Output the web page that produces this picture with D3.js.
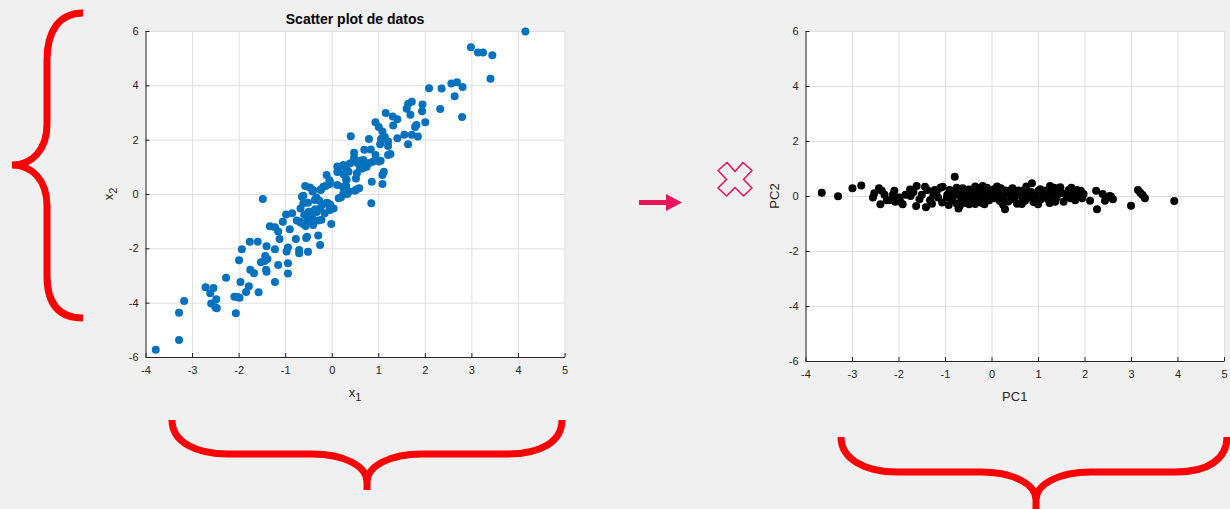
<!DOCTYPE html>
<html>
<head>
<meta charset="utf-8">
<script src="https://cdn.jsdelivr.net/npm/d3@7"></script>
<style>
  body { margin: 0; background: #f0f0f0; }
  svg { display: block; font-family: Arial, "Liberation Sans", Helvetica, sans-serif; }
</style>
</head>
<body>
<svg id="chart" width="1230" height="509"></svg>
<script>
/** Values. */
const xTicks = [-4, -3, -2, -1, 0, 1, 2, 3, 4, 5];
const yTicks = [-6, -4, -2, 0, 2, 4, 6];
const X_DOMAIN = [-4, 5];
const Y_DOMAIN = [-6, 6];

// original data [x1, x2]
const datos = [
  [-3.78,-5.73],[-3.28,-5.37],[-3.28,-4.37],[-3.17,-3.94],
  [-2.71,-3.43],[-2.54,-3.46],[-2.61,-3.65],[-2.48,-3.87],[-2.59,-4.03],[-2.47,-4.21],[-2.50,-4.17],
  [-2.27,-3.08],[-2.06,-4.39],[-2.09,-3.78],[-1.98,-3.82],[-2.02,-3.79],[-1.96,-3.24],[-1.84,-3.61],
  [-1.78,-3.40],[-1.57,-3.62],[-1.22,-3.24],
  [-1.75,-2.79],[-1.67,-2.92],[-1.52,-2.51],[-1.41,-2.79],[-1.43,-2.28],[-1.38,-2.39],[-1.44,-2.47],[-1.40,-2.86],
  [-1.99,-2.44],[-1.93,-2.03],[-1.76,-1.76],[-1.59,-1.76],[-1.40,-1.92],[-1.22,-2.03],[-1.15,-2.61],
  [-0.94,-2.55],[-0.94,-2.93],[-0.97,-2.12],[-0.94,-1.97],[-0.70,-2.06],[-0.70,-2.18],[-0.51,-2.13],
  [-1.12,-1.66],[-1.33,-1.19],[-1.22,-1.22],[-1.15,-1.38],[-0.90,-1.30],[-0.77,-1.66],[-0.53,-1.57],
  [-0.29,-1.53],[-0.25,-1.88],[-0.55,-1.62],
  [-1.48,-0.18],[-1.05,-1.02],[-0.98,-0.75],[-0.85,-0.71],[-0.75,-0.98],[-0.60,-1.11],[-0.61,-0.06],
  [-0.57,0.29],[-0.51,-0.32],[-0.47,0.24],[-0.40,0.15],[-0.42,-0.87],[-0.32,-0.66],[-0.22,-0.95],
  [-0.01,-1.10],[-0.03,-0.40],[-0.04,-0.59],[-0.33,-0.13],[-0.27,-0.24],[-0.23,0.17],[-0.13,0.29],[-0.04,0.37],
  [-0.61,-0.34],[-0.49,-0.65],[-0.43,-0.77],[-0.36,-0.59],[-0.25,-0.53],[-0.20,-0.40],[-0.15,-0.71],
  [-0.08,-0.34],[0.00,-0.53],[-0.68,-1.02],[-0.56,-1.18],[-0.51,-0.96],[-0.40,-1.14],[-0.29,-0.98],
  [-0.67,-1.05],[-0.59,-0.77],[-0.46,-0.65],[-0.35,-0.56],[-0.67,-0.53],
  [0.04,-0.53],[0.15,-0.16],[0.20,-0.12],[0.33,0.00],[0.24,0.27],[0.37,0.09],[0.53,0.17],[0.59,0.21],
  [0.85,-0.34],[0.86,0.45],[1.09,0.37],
  [4.16,5.98],[2.99,5.40],[3.14,5.21],[3.25,5.21],[3.45,5.11],[3.41,4.24],[2.09,3.89],[2.36,3.88],
  [2.57,4.07],[2.69,4.11],[2.81,3.94],[2.64,3.60],[2.80,2.83],[2.33,3.13],[1.95,3.29],[1.94,3.05],
  [2.01,2.64],[1.72,3.40],[1.64,3.31],[1.61,3.14],[1.69,2.92],[1.82,2.54],[1.79,2.47],[1.85,2.12],
  [1.72,2.18],[1.56,2.18],[1.64,1.83],[1.41,2.05],[1.16,2.98],[1.31,2.85],[1.41,2.75],[1.32,2.52],
  [0.94,2.64],[1.01,2.47],[1.09,2.30],[1.14,2.10],[1.21,1.93],[1.06,2.02],[0.41,2.13],[0.80,2.02],
  [1.04,1.83],[0.84,1.64],[0.70,1.63],[0.94,1.44],[1.21,1.44],[1.26,1.47],[1.02,1.20],[1.12,0.82],
  [1.09,0.70],[1.05,1.22],[0.88,1.19],[1.21,1.77],
  [0.48,1.33],[0.57,1.12],[0.68,1.25],[0.75,1.00],[0.61,0.94],[0.39,1.12],[0.32,0.88],[0.16,0.98],
  [0.12,0.81],[0.25,0.73],[0.32,0.53],[0.31,0.29],[0.25,0.02],[0.50,0.12],
  [-0.11,0.70],[-0.05,0.51],[-0.18,0.27],[-0.24,0.15],[-0.41,0.09],[-0.36,-0.22],[-0.11,-0.32],
  [-0.04,-0.47],[-0.64,-0.10],[-0.52,-0.71],
  [0.12,1.01],[0.25,1.07],[0.36,0.82],[0.46,1.19],[0.62,1.22],[0.70,1.10],[0.66,0.94],[0.73,1.01],
  [0.80,1.13],[0.54,0.76],[0.52,0.57],[0.29,0.27],[0.31,0.52],[0.12,0.33],[-0.04,0.45],[0.48,1.52]
];

// principal components [PC1, PC2]
const componentes = [
  [-3.65,0.12],[-3.30,-0.01],[-2.99,0.28],[-2.80,0.38],[-2.55,-0.05],[-2.52,0.10],[-2.42,0.28],[-2.36,0.19],
  [-2.39,-0.30],[-2.25,-0.15],[-2.18,-0.15],[-2.09,0.19],[-2.04,-0.05],[-2.07,-0.21],[-1.98,-0.05],
  [-1.91,-0.30],[-1.96,-0.21],[-1.75,0.24],[-1.74,0.00],[-1.61,0.36],[-1.62,-0.36],[-1.55,-0.12],
  [-1.43,0.34],[-1.38,0.22],[-1.41,-0.41],[-1.32,-0.15],[-1.25,0.04],[-1.18,0.16],[-1.05,0.34],
  [-1.06,-0.24],[-0.96,-0.05],[-0.92,-0.33],[-0.82,0.10],[-0.79,0.70],[-0.75,-0.27],[-0.71,-0.45],
  [-0.67,0.19],[-0.57,-0.02],[-0.49,0.24],[-0.44,-0.12],[-0.35,-0.29],[-0.32,0.10],[-0.24,0.28],
  [-0.19,0.36],[-0.16,-0.05],[-0.06,0.16],[0.04,-0.02],[0.15,0.24],[0.20,0.28],[0.29,-0.48],[0.33,0.10],
  [0.39,0.19],[0.47,-0.12],[0.54,0.12],[0.65,-0.29],[0.72,-0.17],[0.76,0.10],[0.87,0.46],[0.92,-0.12],
  [1.01,0.19],[1.06,-0.12],[1.15,0.10],[1.26,0.36],[1.32,0.16],[1.37,-0.21],[1.48,0.32],[1.51,0.10],
  [1.55,-0.21],[1.62,-0.02],[1.76,0.10],[1.80,-0.15],[1.84,0.22],[1.92,0.19],[1.98,0.07],[2.12,-0.17],
  [2.25,0.19],[2.27,-0.48],[2.39,0.07],[2.44,-0.17],[2.54,0.00],[2.61,-0.12],[2.57,-0.02],[3.00,-0.35],
  [3.15,0.22],[3.20,0.12],[3.25,0.04],[3.30,-0.08],[3.93,-0.18],
  [-0.95,0.05],[-0.90,0.22],[-0.85,-0.15],[-0.80,0.02],[-0.72,0.12],[-0.65,-0.10],[-0.62,0.28],
  [-0.58,0.08],[-0.55,-0.25],[-0.50,0.15],[-0.45,0.02],[-0.40,0.25],[-0.38,-0.18],[-0.30,0.05],
  [-0.27,-0.08],[-0.22,0.18],[-0.20,-0.25],[-0.12,0.08],[-0.10,0.30],[-0.05,-0.15],[0.00,0.12],
  [0.05,0.25],[0.08,-0.08],[0.12,0.05],[0.18,-0.18],[0.22,0.10],[0.26,-0.05],[0.30,0.20],[0.36,-0.20],
  [0.42,0.05],[0.45,0.28],[0.50,-0.05],[0.58,0.20],[0.62,0.02],[0.68,-0.12],[0.70,0.22],[0.80,-0.05],
  [0.85,0.15],[0.90,-0.22],[0.95,0.05],[1.05,0.25],[1.10,-0.05],[1.18,0.20],[1.22,-0.12],[1.30,0.05],
  [1.40,-0.05],[1.45,0.20],[1.58,0.08],[1.66,0.22],[1.70,-0.08],[1.88,0.00],[1.95,-0.08],
  [-1.15,-0.05],[-1.22,0.22],[-1.28,-0.28],[-1.50,0.05],[-1.68,0.15],[-1.85,0.05],[-2.12,0.05],
  [-2.30,0.05],[-0.75,0.30],[-0.68,-0.35],[-0.48,-0.30],[-0.15,-0.30],[0.12,0.35],[0.55,-0.28],
  [1.00,-0.30],[1.35,0.30],[1.72,0.30],[-1.10,0.30],[-0.35,0.35],[0.25,-0.32],[0.75,0.35],[1.25,-0.25]
];

/** Layout. */
const BG = "#f0f0f0";
const AXIS_COLOR = "#262626";
const GRID_COLOR = "#dfdfdf";
const ACCENT = "#e8155a";
const BRACE = "#ff0000";

const PANELS = [
  {left: 145.5, right: 564.5, top: 31, bottom: 357, data: datos, color: "#0072bd",
   title: "Scatter plot de datos", xlab: ["x", "1"], ylab: ["x", "2"], ylabX: 113},
  {left: 805.5, right: 1224, top: 31, bottom: 361, data: componentes, color: "#000000",
   title: null, xlab: ["PC1"], ylab: ["PC2"], ylabX: 779}
];

const svg = d3.select("#chart");
svg.append("rect").attr("width", 1230).attr("height", 509).attr("fill", BG);

function drawPanel(p) {
  const w = p.right - p.left;
  const h = p.bottom - p.top;
  const x = d3.scaleLinear().domain(X_DOMAIN).range([0, w]);
  const y = d3.scaleLinear().domain(Y_DOMAIN).range([h, 0]);

  const g = svg.append("g").attr("transform", `translate(${p.left},${p.top})`);
  g.append("rect").attr("width", w).attr("height", h).attr("fill", "#ffffff");

  // grid
  g.append("g")
    .attr("transform", `translate(0,${h})`)
    .call(d3.axisBottom(x).tickValues(xTicks).tickSize(-h).tickFormat(""))
    .call(s => s.select(".domain").remove())
    .selectAll("line").attr("stroke", GRID_COLOR);
  g.append("g")
    .call(d3.axisLeft(y).tickValues(yTicks).tickSize(-w).tickFormat(""))
    .call(s => s.select(".domain").remove())
    .selectAll("line").attr("stroke", GRID_COLOR);

  // points
  g.append("g").selectAll("circle")
    .data(p.data)
    .join("circle")
    .attr("cx", d => x(d[0]))
    .attr("cy", d => y(d[1]))
    .attr("r", 4)
    .attr("fill", p.color);

  // axes, ticks pointing inward
  const xAxis = g.append("g")
    .attr("transform", `translate(0,${h})`)
    .call(d3.axisBottom(x).tickValues(xTicks).tickSizeInner(-4).tickSizeOuter(0)
      .tickPadding(9).tickFormat(d => String(d)));
  const yAxis = g.append("g")
    .call(d3.axisLeft(y).tickValues(yTicks).tickSizeInner(-4).tickSizeOuter(0)
      .tickPadding(7).tickFormat(d => String(d)));
  [xAxis, yAxis].forEach(a => {
    a.selectAll(".domain, line").attr("stroke", AXIS_COLOR);
    a.selectAll("text").attr("fill", AXIS_COLOR).attr("font-size", 11)
      .attr("font-family", "Arial, 'Liberation Sans', sans-serif");
  });

  if (p.title) {
    g.append("text")
      .attr("x", w / 2).attr("y", -7)
      .attr("text-anchor", "middle")
      .attr("font-weight", "bold").attr("font-size", 14)
      .attr("fill", "#000")
      .text(p.title);
  }

  const xl = g.append("text")
    .attr("x", w / 2).attr("y", h + 40)
    .attr("text-anchor", "middle")
    .attr("font-size", 13).attr("fill", AXIS_COLOR)
    .text(p.xlab[0]);
  if (p.xlab[1]) xl.append("tspan").attr("dy", 4).attr("font-size", 11).text(p.xlab[1]);

  const yl = svg.append("text")
    .attr("transform", `translate(${p.ylabX},${p.top + h / 2}) rotate(-90)`)
    .attr("text-anchor", "middle")
    .attr("font-size", 13).attr("fill", AXIS_COLOR)
    .text(p.ylab[0]);
  if (p.ylab[1]) yl.append("tspan").attr("dy", 4).attr("font-size", 11).text(p.ylab[1]);
}

PANELS.forEach(drawPanel);

/** Decorations: braces, arrow and cross. */
const braces = [
  "M83,13 C60,13 47,30 47,60 L47,124 C47,150 32,165 12,165 C32,165 47,180 47,206 L47,276 C47,305 60,318 83,318",
  "M172,420 C172,442 196,454 228,454 L312,454 C344,454 367,466 367,482 L367,490 M367,482 C367,466 390,454 422,454 L508,454 C540,454 562,442 562,420",
  "M841,437 C841,459 865,472 897,472 L981,472 C1013,472 1036,484 1036,500 L1036,509 M1036,500 C1036,484 1059,472 1091,472 L1176,472 C1208,472 1227,459 1227,437"
];
svg.append("g").selectAll("path")
  .data(braces)
  .join("path")
  .attr("d", d => d)
  .attr("fill", "none")
  .attr("stroke", BRACE)
  .attr("stroke-width", 7);

// arrow
svg.append("rect").attr("x", 639).attr("y", 200).attr("width", 29).attr("height", 5).attr("fill", ACCENT);
svg.append("path").attr("d", "M666,194 L682,202.5 L666,211 Z").attr("fill", ACCENT);

// outlined cross
const cx = 735, cy = 179.5;
const cross = [[0,-8],[8,-17],[17,-9],[8.5,0],[17,8.5],[8.5,16.5],[0,8],[-8.5,16.5],[-17,8.5],[-8.5,0],[-17,-9],[-8,-17]];
svg.append("path")
  .attr("d", d3.line()(cross.map(q => [cx + q[0], cy + q[1]])) + "Z")
  .attr("fill", "none")
  .attr("stroke", ACCENT)
  .attr("stroke-width", 1.6)
  .attr("stroke-linejoin", "round");
</script>
</body>
</html>
